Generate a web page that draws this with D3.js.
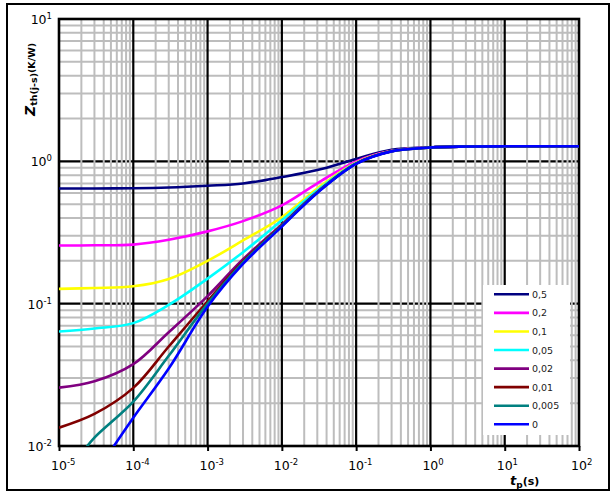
<!DOCTYPE html>
<html><head><meta charset="utf-8">
<script src="https://cdn.jsdelivr.net/npm/d3@7"></script>
<style>body{margin:0;background:#fff} svg{display:block}</style>
</head><body><svg id="c" width="615" height="497"></svg>
<script>
// ---- data ----
const times = [1e-5, 3e-5, 1e-4, 3e-4, 1e-3, 3e-3, 1e-2, 3e-2, 1e-1, 3e-1, 1, 3, 10, 100];
const timesD0005 = [2e-5, 3e-5, 1e-4, 3e-4, 1e-3, 3e-3, 1e-2, 3e-2, 1e-1, 3e-1, 1, 3, 10, 100];
const timesD0 = [5e-5, 1e-4, 3e-4, 1e-3, 3e-3, 1e-2, 3e-2, 1e-1, 3e-1, 1, 3, 10, 100];
const zD05  = [0.645, 0.645, 0.647, 0.655, 0.674, 0.699, 0.775, 0.868, 1.04, 1.205, 1.255, 1.27, 1.275, 1.275];
const zD02  = [0.256, 0.257, 0.260, 0.281, 0.322, 0.380, 0.490, 0.700, 1.00, 1.185, 1.252, 1.27, 1.275, 1.275];
const zD01  = [0.127, 0.129, 0.1324, 0.149, 0.200, 0.278, 0.405, 0.645, 0.98, 1.180, 1.250, 1.27, 1.275, 1.275];
const zD005 = [0.0638, 0.067, 0.073, 0.098, 0.150, 0.230, 0.385, 0.625, 0.97, 1.178, 1.250, 1.27, 1.275, 1.275];
const zD002 = [0.0257, 0.0285, 0.0376, 0.063, 0.113, 0.205, 0.360, 0.610, 0.965, 1.177, 1.250, 1.27, 1.275, 1.275];
const zD001 = [0.01345, 0.0168, 0.0256, 0.050, 0.104, 0.198, 0.355, 0.607, 0.963, 1.176, 1.250, 1.27, 1.275, 1.275];
const zD0005 = [0.0088, 0.01145, 0.0205, 0.043, 0.100, 0.195, 0.352, 0.604, 0.962, 1.176, 1.250, 1.27, 1.275, 1.275];
const zD0   = [0.0093, 0.0158, 0.035, 0.095, 0.190, 0.348, 0.600, 0.960, 1.175, 1.250, 1.27, 1.275, 1.275];
const seriesLabels = ["0,5", "0,2", "0,1", "0,05", "0,02", "0,01", "0,005", "0"];
const seriesColors = ["#000080", "#ff00ff", "#ffff00", "#00ffff", "#800080", "#800000", "#008080", "#0000ff"];
const xTickExps = [-5, -4, -3, -2, -1, 0, 1, 2];
const yTickExps = [-2, -1, 0, 1];

const series = [
  {t: times, z: zD05}, {t: times, z: zD02}, {t: times, z: zD01}, {t: times, z: zD005},
  {t: times, z: zD002}, {t: times, z: zD001}, {t: timesD0005, z: zD0005}, {t: timesD0, z: zD0}
].map((s, i) => ({label: seriesLabels[i], color: seriesColors[i], pts: s.t.map((t, j) => [t, s.z[j]])}));

// ---- layout ----
const L = 59, R = 579, T = 19, B = 446;
const FONT = "DejaVu Sans, Verdana, sans-serif";
const svg = d3.select("#c");
svg.append("rect").attr("width", 615).attr("height", 497).attr("fill", "#fff");
// outer frame
svg.append("rect").attr("x", 7).attr("y", 4).attr("width", 602).attr("height", 486)
  .attr("fill", "none").attr("stroke", "#000").attr("stroke-width", 2);

const x = d3.scaleLog().domain([1e-5, 1e2]).range([L, R]);
const y = d3.scaleLog().domain([1e-2, 1e1]).range([B, T]);

const minorX = [], minorY = [];
for (let e = -5; e < 2; e++) for (let k = 2; k <= 9; k++) minorX.push(k * Math.pow(10, e));
for (let e = -2; e < 1; e++) for (let k = 2; k <= 9; k++) minorY.push(k * Math.pow(10, e));

const grid = svg.append("g");
// black horizontal majors (under gray)
grid.selectAll(".hM").data([1e-1, 1e0]).join("line")
  .attr("x1", L).attr("x2", R).attr("y1", d => y(d)).attr("y2", d => y(d))
  .attr("stroke", "#000").attr("stroke-width", 2.2);
// gray minors
grid.selectAll(".vm").data(minorX).join("line").attr("class", "vm")
  .attr("x1", d => x(d)).attr("x2", d => x(d)).attr("y1", T).attr("y2", B)
  .attr("stroke", "#bdbdbd").attr("stroke-width", 2);
grid.selectAll(".hm").data(minorY).join("line").attr("class", "hm")
  .attr("x1", L).attr("x2", R).attr("y1", d => y(d)).attr("y2", d => y(d))
  .attr("stroke", "#bdbdbd").attr("stroke-width", 2);
// black vertical majors
grid.selectAll(".vM").data(xTickExps.slice(1, -1).map(e => Math.pow(10, e))).join("line").attr("class", "vM")
  .attr("x1", d => x(d)).attr("x2", d => x(d)).attr("y1", T).attr("y2", B)
  .attr("stroke", "#000").attr("stroke-width", 2.2);

// x axis ticks
const xAxis = d3.axisBottom(x).tickValues(xTickExps.map(e => Math.pow(10, e)))
  .tickFormat("").tickSizeInner(5).tickSizeOuter(0);
const gx = svg.append("g").attr("transform", `translate(0,${B})`).call(xAxis);
gx.select(".domain").remove();
gx.selectAll(".tick line").attr("stroke", "#000").attr("stroke-width", 2);

// plot frame
svg.append("rect").attr("x", L).attr("y", T).attr("width", R - L).attr("height", B - T)
  .attr("fill", "none").attr("stroke", "#000").attr("stroke-width", 2.6);

// curves
svg.append("clipPath").attr("id", "clip").append("rect")
  .attr("x", L).attr("y", T).attr("width", R - L).attr("height", B - T);
const line = d3.line().x(d => x(d[0])).y(d => y(d[1])).curve(d3.curveCatmullRom.alpha(0.5));
svg.append("g").attr("clip-path", "url(#clip)").selectAll("path").data(series).join("path")
  .attr("d", d => line(d.pts)).attr("fill", "none").attr("stroke", d => d.color)
  .attr("stroke-width", 2.6).attr("stroke-linejoin", "round");

// tick labels
xTickExps.forEach(e => {
  const t = svg.append("text").attr("x", x(Math.pow(10, e)) - 8).attr("y", 470)
    .style("font-family", FONT).style("font-size", "12.5px").attr("fill", "#000");
  t.append("tspan").text("10");
  t.append("tspan").attr("dy", -5).style("font-size", "8.5px").text(String(e));
});
yTickExps.forEach(e => {
  const t = svg.append("text").attr("x", 52).attr("y", y(Math.pow(10, e)) + 5).attr("text-anchor", "end")
    .style("font-family", FONT).style("font-size", "12.5px").attr("fill", "#000");
  t.append("tspan").text("10");
  t.append("tspan").attr("dy", -5).style("font-size", "8.5px").text(String(e));
});

// axis titles
const yt = svg.append("text").attr("transform", "translate(35,116) rotate(-90)")
  .style("font-family", FONT).style("font-weight", "bold").attr("fill", "#000");
yt.append("tspan").style("font-style", "italic").style("font-size", "14px").text("Z");
yt.append("tspan").attr("dy", 2).style("font-size", "9.5px").text("th(j-s)");
yt.append("tspan").attr("dy", -2).style("font-size", "9.5px").text("(K/W)");

const xt = svg.append("text").attr("x", 510).attr("y", 485)
  .style("font-family", FONT).style("font-weight", "bold").attr("fill", "#000");
xt.append("tspan").style("font-style", "italic").style("font-size", "13px").text("t");
xt.append("tspan").attr("dy", 2.5).style("font-size", "9px").text("p");
xt.append("tspan").attr("dy", -2.5).style("font-size", "11px").text("(s)");

// legend
const lg = svg.append("g");
lg.append("rect").attr("x", 483).attr("y", 285).attr("width", 87).attr("height", 150).attr("fill", "#fff");
const rowY = d3.scalePoint().domain(seriesLabels).range([294.3, 424.3]);
const items = lg.selectAll(".it").data(series).join("g").attr("class", "it")
  .attr("transform", d => `translate(0,${rowY(d.label)})`);
items.append("line").attr("x1", 494).attr("x2", 529).attr("stroke", d => d.color).attr("stroke-width", 2.6);
items.append("text").attr("x", 532).attr("y", 3.5).text(d => d.label)
  .style("font-family", FONT).style("font-size", "9.5px").attr("fill", "#222");
</script></body></html>
